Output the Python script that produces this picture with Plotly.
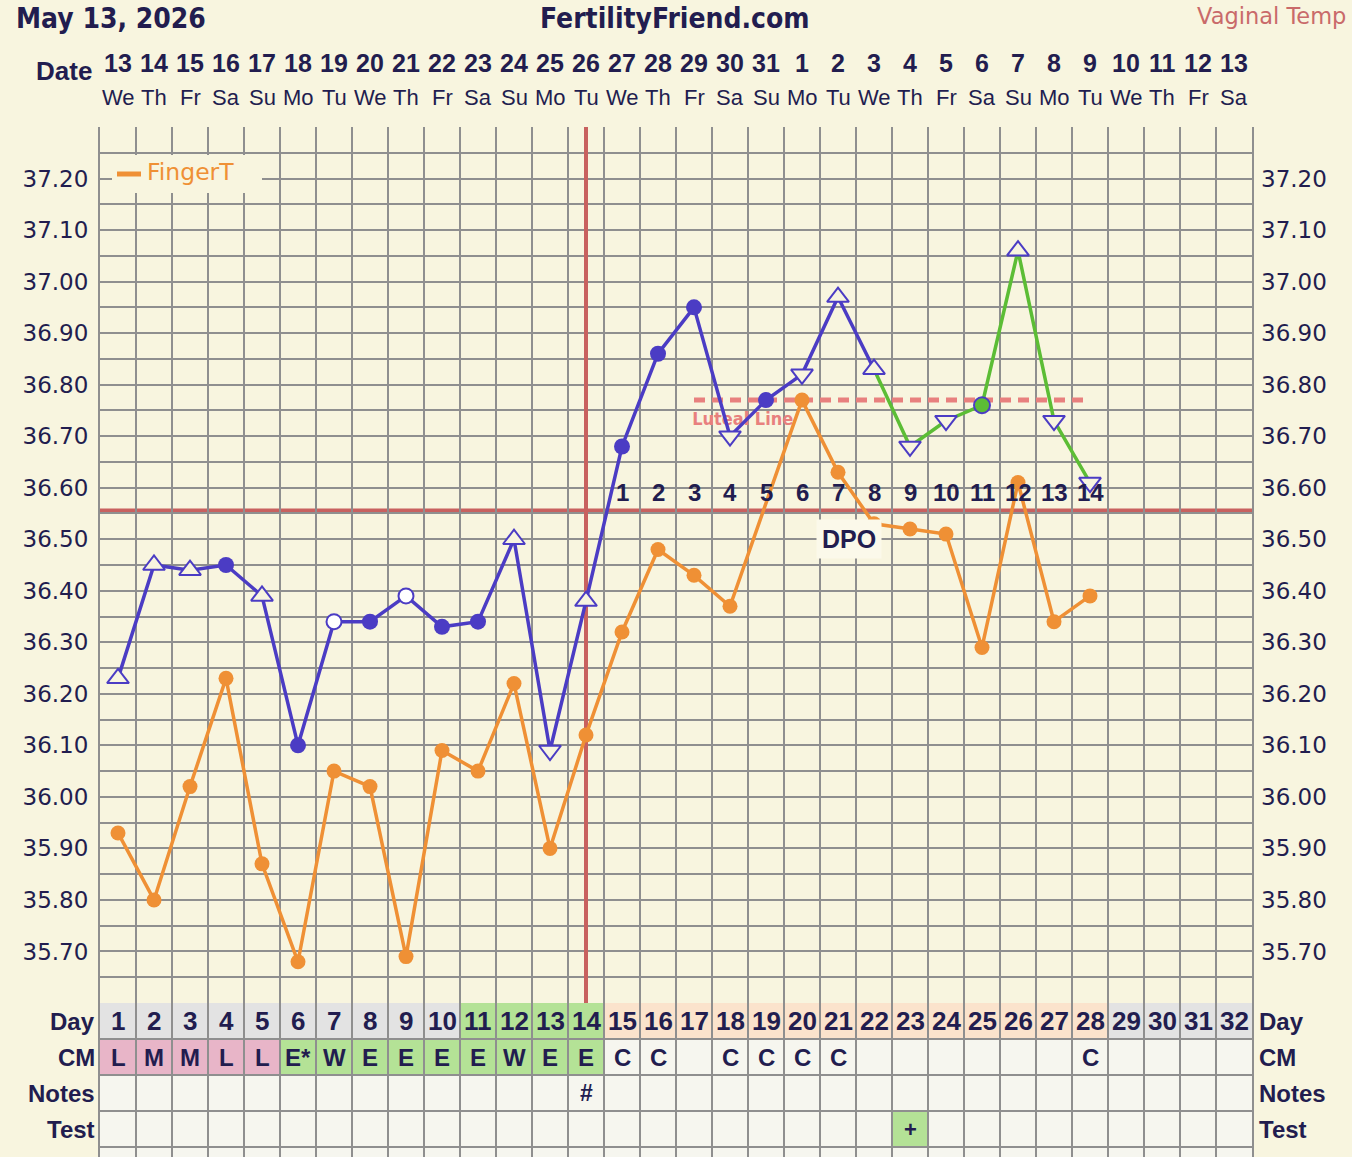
import plotly.graph_objects as go

# ---------------- data ----------------
DAYS = list(range(1, 33))
DATE_NUMS = ["13", "14", "15", "16", "17", "18", "19", "20", "21", "22", "23", "24", "25", "26",
             "27", "28", "29", "30", "31", "1", "2", "3", "4", "5", "6", "7", "8", "9", "10",
             "11", "12", "13"]
WEEKDAYS = ["We", "Th", "Fr", "Sa", "Su", "Mo", "Tu"] * 4 + ["We", "Th", "Fr", "Sa"]

TEMP_DAYS = list(range(1, 29))
VAGINAL = [36.23, 36.45, 36.44, 36.45, 36.39, 36.10, 36.34, 36.34, 36.39, 36.33, 36.34, 36.50,
           36.09, 36.38, 36.68, 36.86, 36.95, 36.70, 36.77, 36.82, 36.97, 36.83, 36.68, 36.73,
           36.76, 37.06, 36.73, 36.61]
# c = filled circle, o = open circle, tu / td = open triangles, g = green dot
VAG_MARKERS = ["tu", "tu", "tu", "c", "tu", "c", "o", "c", "o", "c", "c", "tu", "td", "tu",
               "c", "c", "c", "td", "c", "td", "tu", "tu", "td", "td", "g", "tu", "td", "td"]
GREEN_FROM_DAY = 22
FINGER = [35.93, 35.80, 36.02, 36.23, 35.87, 35.68, 36.05, 36.02, 35.69, 36.09, 36.05, 36.22,
          35.90, 36.12, 36.32, 36.48, 36.43, 36.37, None, 36.77, 36.63, 36.53, 36.52, 36.51,
          36.29, 36.61, 36.34, 36.39]

COVER_DAY = 14
COVERLINE = 36.555
LUTEAL = 36.77
LUTEAL_DAYS = [17, 28]
DPO_DAYS = list(range(15, 29))
DPO_NUMS = [str(i) for i in range(1, 15)]

Y_TICK_VALUES = [35.70, 35.80, 35.90, 36.00, 36.10, 36.20, 36.30, 36.40, 36.50, 36.60,
                 36.70, 36.80, 36.90, 37.00, 37.10, 37.20]
Y_TICK_LABELS = ["35.70", "35.80", "35.90", "36.00", "36.10", "36.20", "36.30", "36.40",
                 "36.50", "36.60", "36.70", "36.80", "36.90", "37.00", "37.10", "37.20"]
Y_RANGE = [35.60, 37.30]

ROW_LABELS = ["Day", "CM", "Notes", "Test"]
DAY_PHASE = ["n"] * 10 + ["f"] * 4 + ["l"] * 14 + ["n"] * 4
CM = ["L", "M", "M", "L", "L", "E*", "W", "E", "E", "E", "E", "W", "E", "E", "C", "C", "",
      "C", "C", "C", "C", "", "", "", "", "", "", "C", "", "", "", ""]
CM_KIND = ["p"] * 5 + ["f"] * 9 + [""] * 18
NOTES = {14: "#"}
TESTS = {23: "+"}

# ---------------- styling ----------------
W, H = 1352, 1157
ML, MR, MT = 100, 100, 127
PLOT_W = W - ML - MR
PLOT_H = H - MT
TABLE_PX = 154
ROW_PX = 36

BG = "#f8f5df"
TABLE_BG = "#f6f6ef"
GRID = "#8f8f8f"
NAVY = "#221d4f"
BLUE = "#4b3cc4"
ORANGE = "#ef9035"
GREEN = "#5cbd35"
RED = "#c8615f"
SALMON = "#e8807e"
ARIAL = "Liberation Sans, Arial, sans-serif"
COND = "DejaVu Sans Condensed, DejaVu Sans, sans-serif"
REG = "DejaVu Sans, Verdana, sans-serif"
PHASE_COL = {"n": "#e3e3e3", "f": "#b4e296", "l": "#fbe3cc"}
CM_COL = {"p": "#e8b5c8", "f": "#b4e296"}


def px_x(px):
    return (px - ML) / PLOT_W


def px_y(py):
    return (H - py) / PLOT_H


main_bottom = TABLE_PX / PLOT_H

fig = go.Figure()

# luteal label (drawn under the data lines)
fig.add_trace(go.Scatter(
    x=[LUTEAL_DAYS[0] - 0.05], y=[LUTEAL - 0.04], mode="text", text=["<b>Luteal Line</b>"],
    textposition="middle right", textfont=dict(family=COND, size=18, color=SALMON),
    showlegend=False, hoverinfo="skip"))

# finger temperature
fig.add_trace(go.Scatter(
    x=TEMP_DAYS, y=FINGER, mode="lines+markers", connectgaps=True,
    line=dict(color=ORANGE, width=3.5), marker=dict(color=ORANGE, size=15),
    showlegend=False, hoverinfo="skip"))

# vaginal temperature lines
split = TEMP_DAYS.index(GREEN_FROM_DAY)
fig.add_trace(go.Scatter(
    x=TEMP_DAYS[:split + 1], y=VAGINAL[:split + 1], mode="lines",
    line=dict(color=BLUE, width=3.5), showlegend=False, hoverinfo="skip"))
fig.add_trace(go.Scatter(
    x=TEMP_DAYS[split:], y=VAGINAL[split:], mode="lines",
    line=dict(color=GREEN, width=3.5), showlegend=False, hoverinfo="skip"))

marker_styles = {
    "c": dict(symbol="circle", size=16, color=BLUE, line=dict(width=0)),
    "o": dict(symbol="circle", size=15, color="#ffffff", line=dict(color=BLUE, width=2)),
    "tu": dict(symbol="triangle-up", size=19, color=BG, line=dict(color=BLUE, width=2)),
    "td": dict(symbol="triangle-down", size=19, color=BG, line=dict(color=BLUE, width=2)),
    "g": dict(symbol="circle", size=16, color=GREEN, line=dict(color=BLUE, width=2)),
}
for kind, style in marker_styles.items():
    xs = [d for d, k in zip(TEMP_DAYS, VAG_MARKERS) if k == kind]
    ys = [v for v, k in zip(VAGINAL, VAG_MARKERS) if k == kind]
    fig.add_trace(go.Scatter(x=xs, y=ys, mode="markers", marker=style,
                             showlegend=False, hoverinfo="skip"))

# helper traces for the right axis and the table subplot
fig.add_trace(go.Scatter(x=[DAYS[0]], y=[Y_TICK_VALUES[0]], yaxis="y3", mode="markers",
                         marker=dict(opacity=0), showlegend=False, hoverinfo="skip"))
fig.add_trace(go.Scatter(x=[DAYS[0]], y=[0.5], yaxis="y2", mode="markers",
                         marker=dict(opacity=0), showlegend=False, hoverinfo="skip"))

shapes = []
annotations = []

# table background and coloured cells
shapes.append(dict(type="rect", xref="paper", yref="paper", x0=0, x1=1, y0=0, y1=main_bottom,
                   fillcolor=TABLE_BG, line=dict(width=0), layer="below"))
for d, ph in zip(DAYS, DAY_PHASE):
    shapes.append(dict(type="rect", xref="x", yref="y2", x0=d - 0.5, x1=d + 0.5, y0=0, y1=1,
                       fillcolor=PHASE_COL[ph], line=dict(width=0), layer="below"))
for d, k in zip(DAYS, CM_KIND):
    if k:
        shapes.append(dict(type="rect", xref="x", yref="y2", x0=d - 0.5, x1=d + 0.5, y0=1, y1=2,
                           fillcolor=CM_COL[k], line=dict(width=0), layer="below"))
for d in TESTS:
    shapes.append(dict(type="rect", xref="x", yref="y2", x0=d - 0.5, x1=d + 0.5, y0=3, y1=4,
                       fillcolor=CM_COL["f"], line=dict(width=0), layer="below"))

# coverline, ovulation line, luteal line
shapes.append(dict(type="line", xref="x", yref="y", x0=COVER_DAY, x1=COVER_DAY,
                   y0=Y_RANGE[0], y1=Y_RANGE[1], line=dict(color=RED, width=4), layer="between"))
shapes.append(dict(type="line", xref="paper", yref="y", x0=0, x1=1, y0=COVERLINE, y1=COVERLINE,
                   line=dict(color=RED, width=5), layer="between"))
shapes.append(dict(type="line", xref="x", yref="y", x0=LUTEAL_DAYS[0], x1=LUTEAL_DAYS[1],
                   y0=LUTEAL, y1=LUTEAL, line=dict(color=SALMON, width=5, dash="11px,7px"),
                   layer="between"))

# legend box (FingerT)
shapes.append(dict(type="rect", xref="paper", yref="paper", x0=px_x(112), x1=px_x(262),
                   y0=px_y(193), y1=px_y(155), fillcolor=BG, line=dict(width=0), layer="above"))
shapes.append(dict(type="line", xref="paper", yref="paper", x0=px_x(117), x1=px_x(141),
                   y0=px_y(174), y1=px_y(174), line=dict(color=ORANGE, width=5), layer="above"))
annotations.append(dict(xref="paper", yref="paper", x=px_x(145), y=px_y(172), text="FingerT",
                        showarrow=False, xanchor="left", yanchor="middle",
                        font=dict(family=REG, size=23.5, color=ORANGE)))

# DPO numbers
for d, t in zip(DPO_DAYS, DPO_NUMS):
    annotations.append(dict(xref="x", yref="y", x=d, y=36.59, text="<b>" + t + "</b>",
                            showarrow=False, font=dict(family=ARIAL, size=24, color=NAVY)))
annotations.append(dict(xref="x", yref="y", x=21.3, y=36.50, text="<b>DPO</b>",
                        showarrow=False, bgcolor="#fbf9ea", borderpad=5,
                        font=dict(family=ARIAL, size=25, color=NAVY)))

# header
annotations.append(dict(xref="paper", yref="paper", x=px_x(14), y=px_y(18),
                        text="<b>May 13, 2026</b>", showarrow=False, xanchor="left",
                        yanchor="middle", font=dict(family=COND, size=28, color=NAVY)))
annotations.append(dict(xref="paper", yref="paper", x=px_x(675), y=px_y(18),
                        text="<b>FertilityFriend.com</b>", showarrow=False, xanchor="center",
                        yanchor="middle", font=dict(family=COND, size=28, color=NAVY)))
annotations.append(dict(xref="paper", yref="paper", x=px_x(1348), y=px_y(16),
                        text="Vaginal Temp", showarrow=False, xanchor="right",
                        yanchor="middle", font=dict(family=REG, size=22.5, color="#c96a6a")))
annotations.append(dict(xref="paper", yref="paper", x=px_x(94), y=px_y(71),
                        text="<b>Date</b>", showarrow=False, xanchor="right",
                        yanchor="middle", font=dict(family=ARIAL, size=26, color=NAVY)))
for d, n, wd in zip(DAYS, DATE_NUMS, WEEKDAYS):
    annotations.append(dict(xref="x", yref="paper", x=d, y=px_y(63), text="<b>" + n + "</b>",
                            showarrow=False, yanchor="middle",
                            font=dict(family=ARIAL, size=25, color=NAVY)))
    annotations.append(dict(xref="x", yref="paper", x=d, y=px_y(97), text=wd,
                            showarrow=False, yanchor="middle",
                            font=dict(family=ARIAL, size=22, color=NAVY)))

# table texts
for i, lab in enumerate(ROW_LABELS):
    annotations.append(dict(xref="paper", yref="y2", x=px_x(97), y=i + 0.5,
                            text="<b>" + lab + "</b>", showarrow=False, xanchor="right",
                            yanchor="middle", font=dict(family=ARIAL, size=24, color=NAVY)))
    annotations.append(dict(xref="paper", yref="y2", x=px_x(1257), y=i + 0.5,
                            text="<b>" + lab + "</b>", showarrow=False, xanchor="left",
                            yanchor="middle", font=dict(family=ARIAL, size=24, color=NAVY)))
for d in DAYS:
    annotations.append(dict(xref="x", yref="y2", x=d, y=0.5, text="<b>" + str(d) + "</b>",
                            showarrow=False, font=dict(family=ARIAL, size=26, color=NAVY)))
for d, c in zip(DAYS, CM):
    if c:
        annotations.append(dict(xref="x", yref="y2", x=d, y=1.5, text="<b>" + c + "</b>",
                                showarrow=False, font=dict(family=ARIAL, size=24, color=NAVY)))
for d, t in NOTES.items():
    annotations.append(dict(xref="x", yref="y2", x=d, y=2.5, text="<b>" + t + "</b>",
                            showarrow=False, font=dict(family=ARIAL, size=23, color=NAVY)))
for d, t in TESTS.items():
    annotations.append(dict(xref="x", yref="y2", x=d, y=3.5, text="<b>" + t + "</b>",
                            showarrow=False, font=dict(family=ARIAL, size=22, color=NAVY)))

grid_y = [round(Y_RANGE[0] + 0.05 * k, 2)
          for k in range(int(round((Y_RANGE[1] - Y_RANGE[0]) / 0.05)) + 1)]
grid_text = [next((l for v, l in zip(Y_TICK_VALUES, Y_TICK_LABELS) if abs(g - v) < 1e-6), "")
             for g in grid_y]

axis_font = dict(family=REG, size=23, color=NAVY)
fig.update_layout(
    width=W, height=H,
    margin=dict(l=ML, r=MR, t=MT, b=0, pad=0),
    paper_bgcolor=BG, plot_bgcolor=BG,
    xaxis=dict(range=[DAYS[0] - 0.5, DAYS[-1] + 0.5], tickmode="linear", tick0=0.5, dtick=1,
               showgrid=True, gridcolor=GRID, gridwidth=2, showticklabels=False,
               zeroline=False, ticks="", fixedrange=True),
    yaxis=dict(domain=[main_bottom, 1], range=Y_RANGE, tickmode="array", tickvals=grid_y,
               ticktext=grid_text, showgrid=True, gridcolor=GRID, gridwidth=2,
               zeroline=False, ticks="", tickfont=axis_font, ticklabelstandoff=5,
               showline=True, linecolor=GRID, linewidth=2, mirror=True),
    yaxis3=dict(overlaying="y", side="right", range=Y_RANGE, matches="y", tickmode="array",
                tickvals=grid_y, ticktext=grid_text, showgrid=False, zeroline=False, ticks="",
                tickfont=axis_font, ticklabelstandoff=8),
    yaxis2=dict(domain=[0, main_bottom], range=[TABLE_PX / ROW_PX, 0], tickmode="array",
                tickvals=[0, 1, 2, 3, 4], showticklabels=False, showgrid=True, gridcolor=GRID,
                gridwidth=2, zeroline=False, ticks="", showline=True, linecolor=GRID,
                linewidth=2, mirror=True),
    shapes=shapes,
    annotations=annotations,
    showlegend=False,
)

fig.write_html("out.html")
